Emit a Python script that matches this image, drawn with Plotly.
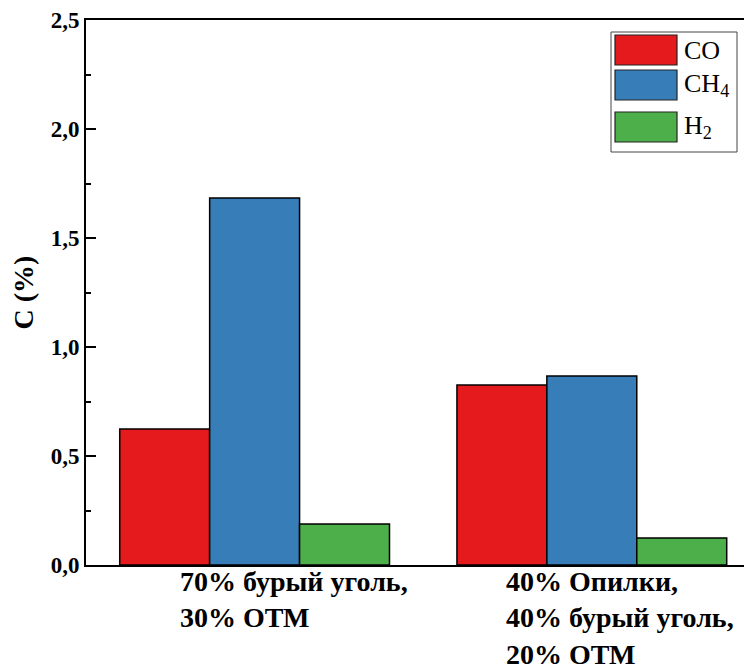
import plotly.graph_objects as go

categories = ["g1", "g2"]
category_labels = ["<b>70% бурый уголь,<br>30% ОТМ</b>", "<b>40% Опилки,<br>40% бурый уголь,<br>20% ОТМ</b>"]
series_names = ["CO", "CH4", "H2"]
series_labels = ["CO", "CH<sub>4</sub>", "H<sub>2</sub>"]
co_values = [0.624, 0.826]
ch4_values = [1.683, 0.867]
h2_values = [0.188, 0.124]
colors = ["#E41A1C", "#377EB8", "#4DAF4A"]
y_ticks = [0.0, 0.5, 1.0, 1.5, 2.0, 2.5]

# page has an 8px body margin; figure is placed at (8, 8)
OFF = 8
W, H = 752 - OFF, 668 - OFF
L, R, T, B = 86, 752, 20, 565  # plot area in page pixels

def px(x):
    return (x - L) / (R - L)

def py(y):
    return (B - y) / (B - T)

fig = go.Figure()
for vals, name, col in zip([co_values, ch4_values, h2_values], series_names, colors):
    fig.add_trace(go.Bar(x=categories, y=vals, name=name, showlegend=False,
                         marker=dict(color=col, line=dict(color="black", width=1.5))))

FONT = "Liberation Serif, Times New Roman, serif"
fig.update_layout(
    width=W, height=H,
    margin=dict(l=L - OFF, r=0, t=T - OFF, b=H - (B - OFF), pad=0),
    plot_bgcolor="white", paper_bgcolor="white",
    barmode="group", bargap=0.2, bargroupgap=0,
    separators=", ",
    font=dict(family=FONT, color="black"),
)
fig.update_xaxes(range=[-0.5, 1.475], showticklabels=False, ticks="",
                 showline=True, linecolor="black", linewidth=2, mirror=True,
                 showgrid=False, zeroline=False)
fig.update_yaxes(range=[0, 2.5], tickvals=y_ticks, tickformat=".1f",
                 ticks="inside", ticklen=10, tickwidth=2, tickcolor="black",
                 minor=dict(dtick=0.25, ticks="inside", ticklen=5, tickwidth=2, tickcolor="black"),
                 showline=True, linecolor="black", linewidth=2, mirror=False,
                 showgrid=False, zeroline=False, ticklabeloverflow="allow",
                 tickfont=dict(family=FONT, size=23, weight="bold"),
                 title=dict(text="<b>C (%)</b>", font=dict(family=FONT, size=28, weight="bold"), standoff=14))

# category labels
for cat, lab, shift in zip(categories, category_labels, [-77, -88]):
    fig.add_annotation(x=cat, y=0, xref="x", yref="paper", text=lab, showarrow=False,
                       xanchor="left", yanchor="top", align="left", xshift=shift, yshift=1,
                       font=dict(family=FONT, size=28, weight="bold"))

# legend
fig.add_shape(type="rect", xref="paper", yref="paper", x0=px(611), x1=px(737), y0=py(152), y1=py(32),
              line=dict(color="#444444", width=1), fillcolor="white")
sw = [(35, 65), (70, 100), (112, 142)]
ty = [50, 85, 127]
for (y0, y1), col, lab, t in zip(sw, colors, series_labels, ty):
    fig.add_shape(type="rect", xref="paper", yref="paper", x0=px(615), x1=px(677), y0=py(y1), y1=py(y0),
                  line=dict(color="#222222", width=1.2), fillcolor=col)
    fig.add_annotation(x=px(682), y=py(t), xref="paper", yref="paper", text=lab, showarrow=False,
                       xanchor="left", yanchor="middle", font=dict(family=FONT, size=26))

fig.write_html("out.html")
